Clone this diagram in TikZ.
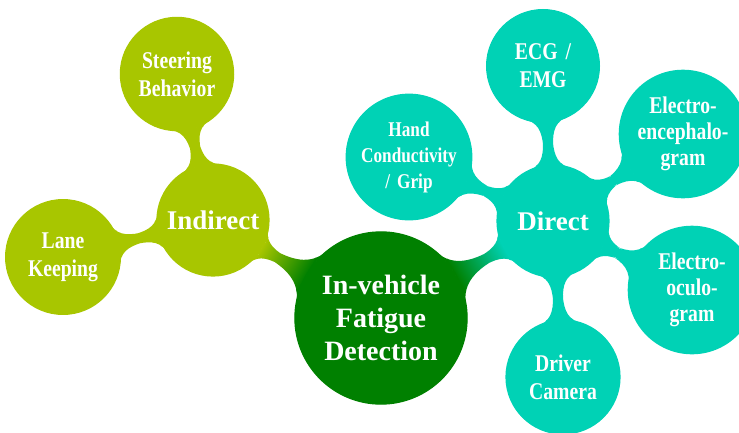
\documentclass[tikz,border=0pt]{standalone}
\usepackage{fontspec}
\setmainfont{Liberation Serif}
\newfontfamily\leaffont{Liberation Serif}[FakeStretch=0.82, WordSpace=0.6]
\usepackage{tikz}
\usetikzlibrary{mindmap, backgrounds}

\definecolor{rootgreen}{RGB}{0,128,0}
\definecolor{limegreen}{RGB}{168,198,0}
\definecolor{teal}{RGB}{0,210,181}

\begin{document}
\begin{tikzpicture}[
        mindmap, x=1pt, y=1pt,
        hub/.style={concept, concept color=rootgreen, circle, inner sep=0pt, minimum size=162pt, text width=150pt, align=center, text=white, font=\bfseries\fontsize{28}{33}\selectfont},
        branch/.style={concept, circle, inner sep=0pt, minimum size=112pt, text width=108pt, align=center, text=white, font=\bfseries\fontsize{27}{31}\selectfont},
        leaf/.style={concept, circle, inner sep=0pt, minimum size=108pt, text width=104pt, align=center, text=white, font=\leaffont\bfseries\fontsize{24}{28}\selectfont},
        thick bar/.style={line width=14pt},
        thin bar/.style={line width=10pt}
    ]
        \useasboundingbox (0,0) rectangle (739,-432);

        \node[hub] (fatigue) at (381,-318) {In-vehicle\\Fatigue\\Detection};

        % indirect measures
        \node[branch, concept color=limegreen] (indirect) at (213,-220) {Indirect};
        \node[leaf, concept color=limegreen, minimum size=102pt] (steer) at (177,-74) {Steering\\Behavior};
        \node[leaf, concept color=limegreen] (lane) at (63,-257) {Lane\\Keeping};

        % direct measures
        \node[branch, concept color=teal] (direct) at (553,-221) {Direct};
        \node[leaf, concept color=teal, minimum size=112pt, font=\leaffont\bfseries\fontsize{21}{26}\selectfont] (hand) at (409,-157) {Hand\\Conductivity\\/ Grip};
        \node[leaf, concept color=teal] (ecg) at (543,-66) {ECG /\\EMG};
        \node[leaf, concept color=teal, minimum size=110pt, font=\leaffont\bfseries\fontsize{24}{26}\selectfont] (eeg) at (683,-134) {Electro-\\encephalo-\\gram};
        \node[leaf, concept color=teal, minimum size=114pt, font=\leaffont\bfseries\fontsize{24}{26}\selectfont] (eog) at (692,-290) {Electro-\\oculo-\\gram};
        \node[leaf, concept color=teal, minimum size=114pt] (cam) at (563,-377) {Driver\\Camera};

        \begin{pgfonlayer}{background}
            \path[thick bar] (fatigue) to[circle connection bar switch color=from (rootgreen) to (limegreen)] (indirect);
            \path[thick bar] (fatigue) to[circle connection bar switch color=from (rootgreen) to (teal)] (direct);
            \foreach \leafname in {steer, lane}
                \path[thin bar] (indirect) to[circle connection bar switch color=from (limegreen) to (limegreen)] (\leafname);
            \foreach \leafname in {hand, ecg, eeg, eog, cam}
                \path[thin bar] (direct) to[circle connection bar switch color=from (teal) to (teal)] (\leafname);
        \end{pgfonlayer}
    \end{tikzpicture}
\end{document}
